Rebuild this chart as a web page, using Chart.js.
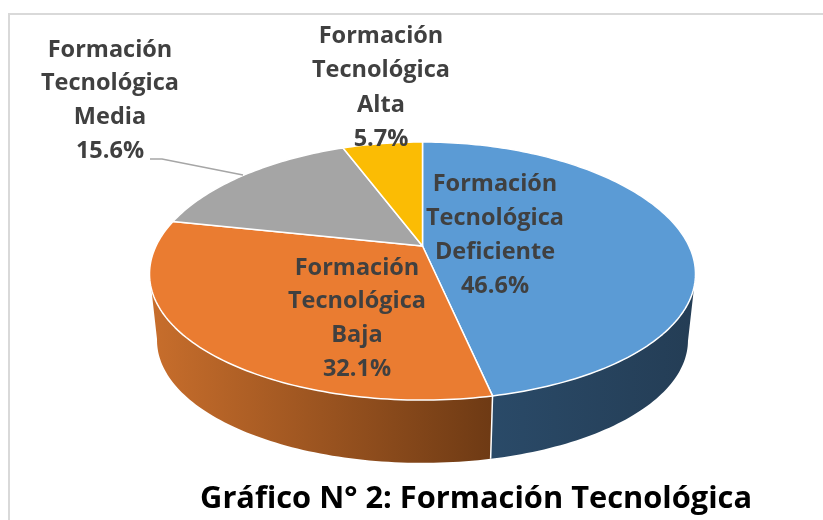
<!DOCTYPE html>
<html>
<head>
<meta charset="utf-8">
<style>
  html, body { margin: 0; padding: 0; background: #fff; }
  #wrap { width: 823px; height: 520px; }
</style>
<script src="https://cdn.jsdelivr.net/npm/chart.js@4/dist/chart.umd.min.js"></script>
</head>
<body>
<div id="wrap"><canvas id="chart" width="823" height="520"></canvas></div>
<script>
const categories = ["Formación Tecnológica Deficiente", "Formación Tecnológica Baja", "Formación Tecnológica Media", "Formación Tecnológica Alta"];
const categoryLines = [
  ["Formación", "Tecnológica", "Deficiente"],
  ["Formación", "Tecnológica", "Baja"],
  ["Formación", "Tecnológica", "Media"],
  ["Formación", "Tecnológica", "Alta"]
];
const percents = [46.6, 32.1, 15.6, 5.7];
const chartTitle = "Gráfico N° 2: Formación Tecnológica";

const sliceColors = ["#5b9bd5", "#ea7c31", "#a5a5a5", "#fbbc04"];
const wallColors = [["#2a4a68", "#243d55"], ["#c86e2c", "#6e3a14"], null, null];
const labelPlaces = [[495, 184, 34], [357, 268, 33.7], [110, 50, 33.7], [381, 36, 34.5]];

// perspective of the tilted disc, the flat pie angle goes in and a screen point comes out
const disc = { x: 422.5, y: 246, rx: 267.8, ry: 124.2, tilt: 0.194, sag: 3 };
const floorDrop = 67, floorScale = 0.9725;

function project(angle, lower) {
  const u = Math.cos(angle), v = -Math.sin(angle);
  const k = 1 + disc.tilt * v;
  const s = lower ? floorScale : 1;
  return {
    x: disc.x + s * disc.rx * u / k,
    y: disc.y + (lower ? floorDrop : 0) - s * disc.ry * v / k + disc.sag * u * u
  };
}

function rimPoints(start, end, lower) {
  const pts = [];
  const steps = Math.max(2, Math.ceil(Math.abs(end - start) / 0.02));
  for (let i = 0; i <= steps; i++) pts.push(project(start + (end - start) * i / steps, lower));
  return pts;
}

// only the stretch of rim facing the viewer: cut at the widest point, keep the lower end
function frontOnly(pts) {
  const far = pts.map(p => Math.abs(p.x - disc.x));
  const m = far.indexOf(Math.max(...far));
  return pts[0].y > pts[pts.length - 1].y ? pts.slice(0, m + 1) : pts.slice(m);
}

const tiltedPie = {
  id: "tiltedPie",
  beforeDraw(chart) {
    // frame of the pasted picture
    const ctx = chart.ctx;
    ctx.save();
    ctx.strokeStyle = "#d9d9d9";
    ctx.lineWidth = 2;
    ctx.beginPath();
    ctx.moveTo(9, 520);
    ctx.lineTo(9, 14);
    ctx.lineTo(823, 14);
    ctx.stroke();
    ctx.restore();
  },
  beforeDatasetDraw(chart, args) {
    const ctx = chart.ctx;
    const arcs = chart.getDatasetMeta(args.index).data;
    ctx.save();
    ctx.lineJoin = "round";

    // side wall first, the top face hides what is behind it
    arcs.forEach((arc, i) => {
      if (!wallColors[i]) return;
      const top = frontOnly(rimPoints(arc.startAngle, arc.endAngle, false));
      const low = frontOnly(rimPoints(arc.startAngle, arc.endAngle, true)).reverse();
      const xs = top.concat(low).map(p => p.x);
      const grad = ctx.createLinearGradient(Math.min(...xs), 0, Math.max(...xs), 0);
      grad.addColorStop(0, wallColors[i][0]);
      grad.addColorStop(1, wallColors[i][1]);
      ctx.fillStyle = grad;
      ctx.beginPath();
      top.concat(low).forEach((p, j) => j ? ctx.lineTo(p.x, p.y) : ctx.moveTo(p.x, p.y));
      ctx.closePath();
      ctx.fill();
    });

    // white seam between the two visible walls
    const seamTop = project(arcs[0].endAngle, false), seamLow = project(arcs[0].endAngle, true);
    ctx.strokeStyle = "#fff";
    ctx.lineWidth = 1.5;
    ctx.beginPath();
    ctx.moveTo(seamTop.x, seamTop.y);
    ctx.lineTo(seamLow.x, seamLow.y);
    ctx.stroke();

    // top faces
    arcs.forEach((arc, i) => {
      ctx.fillStyle = sliceColors[i];
      ctx.beginPath();
      ctx.moveTo(disc.x, disc.y);
      rimPoints(arc.startAngle, arc.endAngle, false).forEach(p => ctx.lineTo(p.x, p.y));
      ctx.closePath();
      ctx.fill();
      ctx.stroke();
    });
    ctx.restore();
    return false; // flat arcs replaced by the tilted ones
  },
  afterDraw(chart) {
    const ctx = chart.ctx;
    ctx.save();
    // leader line of the Media label
    ctx.strokeStyle = "#a6a6a6";
    ctx.lineWidth = 1.5;
    ctx.beginPath();
    ctx.moveTo(150, 159);
    ctx.lineTo(162, 159);
    ctx.lineTo(243, 175);
    ctx.stroke();

    ctx.fillStyle = "#404040";
    ctx.font = "bold 23.5px 'Open Sans'";
    ctx.textAlign = "center";
    ctx.textBaseline = "middle";
    categoryLines.forEach((lines, i) => {
      const [x, y, step] = labelPlaces[i];
      lines.concat(percents[i].toFixed(1) + "%").forEach((line, j) => {
        ctx.fillText(line, x, y + j * step);
      });
    });
    ctx.restore();
  }
};

new Chart(document.getElementById("chart"), {
  type: "pie",
  data: {
    labels: categories,
    datasets: [{ data: percents, backgroundColor: sliceColors, borderColor: "#fff", borderWidth: 1.5 }]
  },
  options: {
    responsive: false,
    animation: false,
    layout: { padding: { right: 71, bottom: 0 } },
    plugins: {
      legend: { display: false },
      tooltip: { enabled: false },
      title: {
        display: true,
        text: chartTitle,
        position: "bottom",
        align: "end",
        color: "#000",
        font: { family: "'Open Sans'", size: 30.8, weight: "bold" },
        padding: { top: 0, bottom: 2 }
      }
    }
  },
  plugins: [tiltedPie]
});
</script>
</body>
</html>
